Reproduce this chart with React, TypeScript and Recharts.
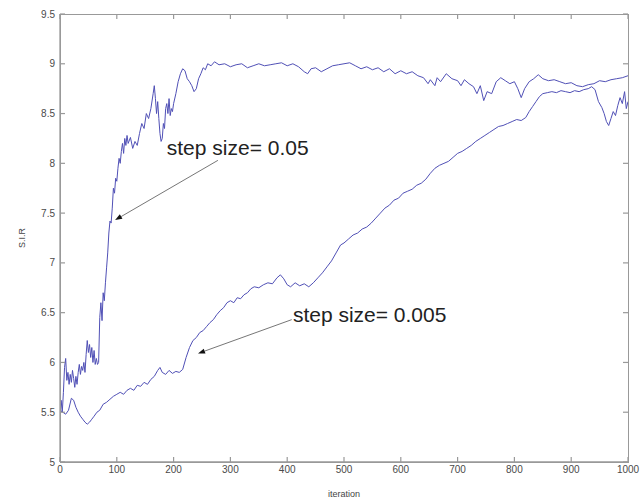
import { LineChart, Line, XAxis, YAxis, ReferenceLine, ReferenceDot } from "recharts";

const xTicks = [0, 100, 200, 300, 400, 500, 600, 700, 800, 900, 1000];
const yTicks = [5, 5.5, 6, 6.5, 7, 7.5, 8, 8.5, 9, 9.5];

// step size = 0.05
const fastIter = [
  0, 2, 4, 6, 8, 10, 12, 14, 16, 18, 20, 22, 24, 26, 28, 30, 32, 34, 36, 38, 40, 42, 44, 46, 48,
  50, 52, 54, 56, 58, 60, 62, 64, 66, 68, 70, 72, 74, 76, 78, 80, 82, 84, 86, 88, 90, 92, 94, 96,
  98, 100, 102, 104, 106, 108, 110, 112, 114, 116, 118, 120, 124, 128, 132, 136, 140, 144, 148,
  152, 156, 160, 164, 166, 168, 170, 172, 174, 176, 178, 180, 182, 184, 186, 188, 190, 192, 194,
  196, 198, 200, 204, 208, 212, 216, 220, 224, 228, 232, 236, 240, 244, 248, 252, 256, 260, 266,
  272, 280, 290, 300, 310, 320, 330, 340, 350, 360, 370, 380, 390, 400, 410, 420, 430, 436, 442,
  450, 460, 470, 480, 490, 500, 510, 520, 530, 540, 550, 560, 570, 580, 590, 600, 610, 620, 630,
  640, 648, 652, 660, 664, 670, 680, 690, 700, 706, 712, 720, 728, 734, 740, 746, 752, 760, 768,
  776, 784, 792, 800, 806, 812, 818, 826, 834, 842, 850, 860, 870, 880, 890, 900, 910, 920, 930,
  940, 950, 960, 970, 980, 990, 1000,
];
const fastSir = [
  5.45, 5.62, 5.5, 5.7, 5.95, 6.04, 5.82, 5.9, 5.78, 5.88, 5.8, 5.92, 5.84, 5.75, 5.86, 5.78, 5.9,
  5.98, 5.88, 5.96, 5.92, 6.0, 5.9, 6.08, 6.22, 6.1, 6.18, 6.05, 6.15, 6.0, 6.12, 5.98, 6.04, 5.98,
  6.0, 6.45, 6.6, 6.42, 6.7, 6.62, 6.8, 6.95, 7.1, 7.3, 7.42, 7.4, 7.55, 7.75, 7.7, 7.85, 7.82,
  7.95, 8.05, 8.0, 8.12, 8.2, 8.1, 8.25, 8.18, 8.28, 8.2, 8.26, 8.15, 8.22, 8.18, 8.3, 8.4, 8.35,
  8.5, 8.45, 8.55, 8.7, 8.78, 8.65, 8.5, 8.62, 8.45, 8.3, 8.22, 8.25, 8.4, 8.35, 8.55, 8.6, 8.5,
  8.65, 8.48, 8.55, 8.52, 8.6, 8.7, 8.82, 8.9, 8.95, 8.93, 8.85, 8.82, 8.78, 8.72, 8.75, 8.85, 8.9,
  8.96, 8.94, 9.0, 8.98, 9.02, 8.99, 9.0, 8.97, 8.99, 9.0, 8.96, 8.98, 9.0, 8.98, 8.99, 9.0, 9.01,
  8.98, 9.0, 8.97, 8.92, 8.9, 8.95, 8.96, 8.92, 8.95, 8.98, 8.99, 9.0, 9.01, 8.98, 8.95, 8.97,
  8.94, 8.96, 8.92, 8.95, 8.9, 8.93, 8.9, 8.92, 8.88, 8.86, 8.8, 8.84, 8.78, 8.86, 8.82, 8.9, 8.85,
  8.83, 8.78, 8.84, 8.8, 8.77, 8.7, 8.78, 8.63, 8.72, 8.7, 8.82, 8.86, 8.83, 8.8, 8.82, 8.75, 8.66,
  8.75, 8.82, 8.85, 8.89, 8.85, 8.83, 8.84, 8.82, 8.8, 8.81, 8.78, 8.77, 8.79, 8.8, 8.83, 8.82,
  8.84, 8.85, 8.86, 8.88,
];

// step size = 0.005
const slowIter = [
  0, 5, 10, 15, 20, 24, 28, 32, 36, 40, 44, 48, 52, 56, 60, 65, 70, 76, 82, 88, 94, 100, 106, 112,
  118, 124, 130, 136, 142, 148, 154, 160, 166, 172, 176, 180, 186, 192, 198, 204, 210, 216, 222,
  228, 234, 240, 246, 252, 258, 264, 270, 276, 282, 288, 294, 300, 306, 312, 318, 324, 330, 336,
  342, 350, 358, 366, 374, 382, 388, 394, 400, 406, 414, 422, 430, 438, 446, 454, 462, 470, 478,
  486, 494, 500, 508, 516, 524, 532, 540, 548, 556, 564, 572, 580, 588, 596, 604, 612, 620, 628,
  636, 644, 652, 660, 668, 676, 684, 692, 700, 708, 716, 724, 732, 740, 748, 756, 764, 772, 780,
  788, 796, 804, 812, 820, 826, 832, 838, 844, 850, 858, 866, 874, 882, 890, 898, 906, 914, 922,
  930, 936, 942, 948, 954, 958, 962, 966, 970, 974, 978, 982, 986, 990, 994, 997, 1000,
];
const slowSir = [
  5.52, 5.5, 5.48, 5.52, 5.64, 5.62, 5.55, 5.5, 5.46, 5.43, 5.4, 5.38, 5.4, 5.43, 5.46, 5.5, 5.52,
  5.58, 5.6, 5.63, 5.66, 5.68, 5.7, 5.68, 5.72, 5.74, 5.72, 5.77, 5.76, 5.8, 5.78, 5.83, 5.86, 5.92,
  5.95, 5.9, 5.88, 5.92, 5.89, 5.91, 5.9, 5.93, 6.05, 6.15, 6.22, 6.25, 6.3, 6.32, 6.36, 6.4, 6.43,
  6.48, 6.52, 6.55, 6.6, 6.62, 6.6, 6.65, 6.64, 6.68, 6.7, 6.74, 6.76, 6.75, 6.78, 6.8, 6.79, 6.85,
  6.88, 6.84, 6.78, 6.76, 6.8, 6.77, 6.79, 6.76, 6.8, 6.85, 6.9, 6.96, 7.02, 7.1, 7.18, 7.2, 7.24,
  7.28, 7.3, 7.34, 7.36, 7.4, 7.45, 7.5, 7.55, 7.58, 7.63, 7.65, 7.7, 7.72, 7.74, 7.78, 7.8, 7.84,
  7.9, 7.95, 7.98, 8.0, 8.02, 8.06, 8.1, 8.12, 8.15, 8.18, 8.22, 8.25, 8.28, 8.31, 8.34, 8.37,
  8.38, 8.4, 8.42, 8.44, 8.43, 8.46, 8.52, 8.57, 8.62, 8.67, 8.7, 8.71, 8.72, 8.71, 8.73, 8.72,
  8.71, 8.73, 8.72, 8.74, 8.75, 8.77, 8.74, 8.62, 8.56, 8.5, 8.42, 8.38, 8.45, 8.52, 8.48, 8.58,
  8.66, 8.6, 8.72, 8.55, 8.62,
];

const fastData = fastIter.map((it, i) => ({ iteration: it, sir: fastSir[i] }));
const slowData = slowIter.map((it, i) => ({ iteration: it, sir: slowSir[i] }));

const notes = [
  { text: "step size= 0.05", at: { x: 188, y: 8.08 }, tail: { x: 278, y: 8.03 }, head: { x: 97, y: 7.43 } },
  { text: "step size= 0.005", at: { x: 410, y: 6.41 }, tail: { x: 408, y: 6.43 }, head: { x: 243, y: 6.09 } },
];

const xMin = 0;
const xMax = 1000;
const yMin = 5;
const yMax = 9.5;

const W = 641;
const H = 500;
const M = { top: 14, right: 13, bottom: 0, left: 0 };
const Y_AXIS_W = 60;
const X_AXIS_H = 38;

const LINE = "#5050b6";
const FRAME = "#999";
const FONT = "Liberation Sans, Arial, sans-serif";
const tickFont = { fontSize: 10, fill: "#4a4a4a", fontFamily: FONT };

function Arrow(props: any) {
  const { x1, y1, x2, y2 } = props;
  const ang = Math.atan2(y2 - y1, x2 - x1);
  const len = 7;
  const w = 2.6;
  const bx = x2 - len * Math.cos(ang);
  const by = y2 - len * Math.sin(ang);
  const px = -Math.sin(ang) * w;
  const py = Math.cos(ang) * w;
  return (
    <g>
      <line x1={x1} y1={y1} x2={bx} y2={by} stroke="#666" strokeWidth={0.9} />
      <polygon points={`${x2},${y2} ${bx + px},${by + py} ${bx - px},${by - py}`} fill="#111" />
    </g>
  );
}

// inward tick marks at both ends of a full-span segment
function InTicks(props: any) {
  const { x1, y1, x2, y2 } = props;
  const d = Math.hypot(x2 - x1, y2 - y1) || 1;
  const ux = ((x2 - x1) / d) * 5;
  const uy = ((y2 - y1) / d) * 5;
  return (
    <g>
      <line x1={x1} y1={y1} x2={x1 + ux} y2={y1 + uy} stroke={FRAME} strokeWidth={1.2} />
      <line x1={x2} y1={y2} x2={x2 - ux} y2={y2 - uy} stroke={FRAME} strokeWidth={1.2} />
    </g>
  );
}

export default function App() {
  // box around the plot area, drawn as an overlay
  const box = {
    position: "absolute" as const,
    left: M.left + Y_AXIS_W,
    top: M.top,
    width: W - M.left - M.right - Y_AXIS_W + 1,
    height: H - M.top - M.bottom - X_AXIS_H + 1,
    boxSizing: "border-box" as const,
    border: `1.3px solid ${FRAME}`,
    pointerEvents: "none" as const,
  };

  return (
    <div style={{ position: "absolute", left: 0, top: 0, width: W, height: H, background: "#fff" }}>
      <LineChart width={W} height={H} margin={M}>
        <XAxis
          dataKey="iteration"
          type="number"
          domain={[xMin, xMax]}
          ticks={xTicks}
          allowDataOverflow
          height={X_AXIS_H}
          tickLine={false}
          tickSize={0}
          tickMargin={4}
          tick={tickFont}
          stroke={FRAME}
          strokeWidth={1.3}
          label={{ value: "iteration", position: "insideBottom", offset: 3, fontSize: 9, fill: "#444", fontFamily: FONT }}
        />
        <YAxis
          type="number"
          domain={[yMin, yMax]}
          ticks={yTicks}
          allowDataOverflow
          width={Y_AXIS_W}
          tickLine={false}
          tickSize={0}
          tickMargin={5}
          tick={tickFont}
          stroke={FRAME}
          strokeWidth={1.3}
          label={{ value: "S.I.R", angle: -90, position: "center", dx: -8, fontSize: 9, fill: "#444", fontFamily: FONT }}
        />
        <Line data={slowData} dataKey="sir" type="linear" stroke={LINE} strokeWidth={1} dot={false} isAnimationActive={false} />
        <Line data={fastData} dataKey="sir" type="linear" stroke={LINE} strokeWidth={1} dot={false} isAnimationActive={false} />
        {xTicks.map((t) => (
          <ReferenceLine
            key={"xt" + t}
            segment={[{ x: t, y: yMin }, { x: t, y: yMax }]}
            ifOverflow="visible"
            shape={(p: any) => <InTicks {...p} />}
          />
        ))}
        {yTicks.map((t) => (
          <ReferenceLine
            key={"yt" + t}
            segment={[{ x: xMin, y: t }, { x: xMax, y: t }]}
            ifOverflow="visible"
            shape={(p: any) => <InTicks {...p} />}
          />
        ))}
        {notes.map((n) => (
          <ReferenceLine key={n.text + "-arrow"} segment={[n.tail, n.head]} shape={(p: any) => <Arrow {...p} />} />
        ))}
        {notes.map((n) => (
          <ReferenceDot
            key={n.text}
            x={n.at.x}
            y={n.at.y}
            r={0}
            shape={(p: any) => (
              <text x={p.cx} y={p.cy} fontSize={21} fill="#222" fontFamily={FONT}>
                {n.text}
              </text>
            )}
          />
        ))}
      </LineChart>
      <div style={box} />
    </div>
  );
}
